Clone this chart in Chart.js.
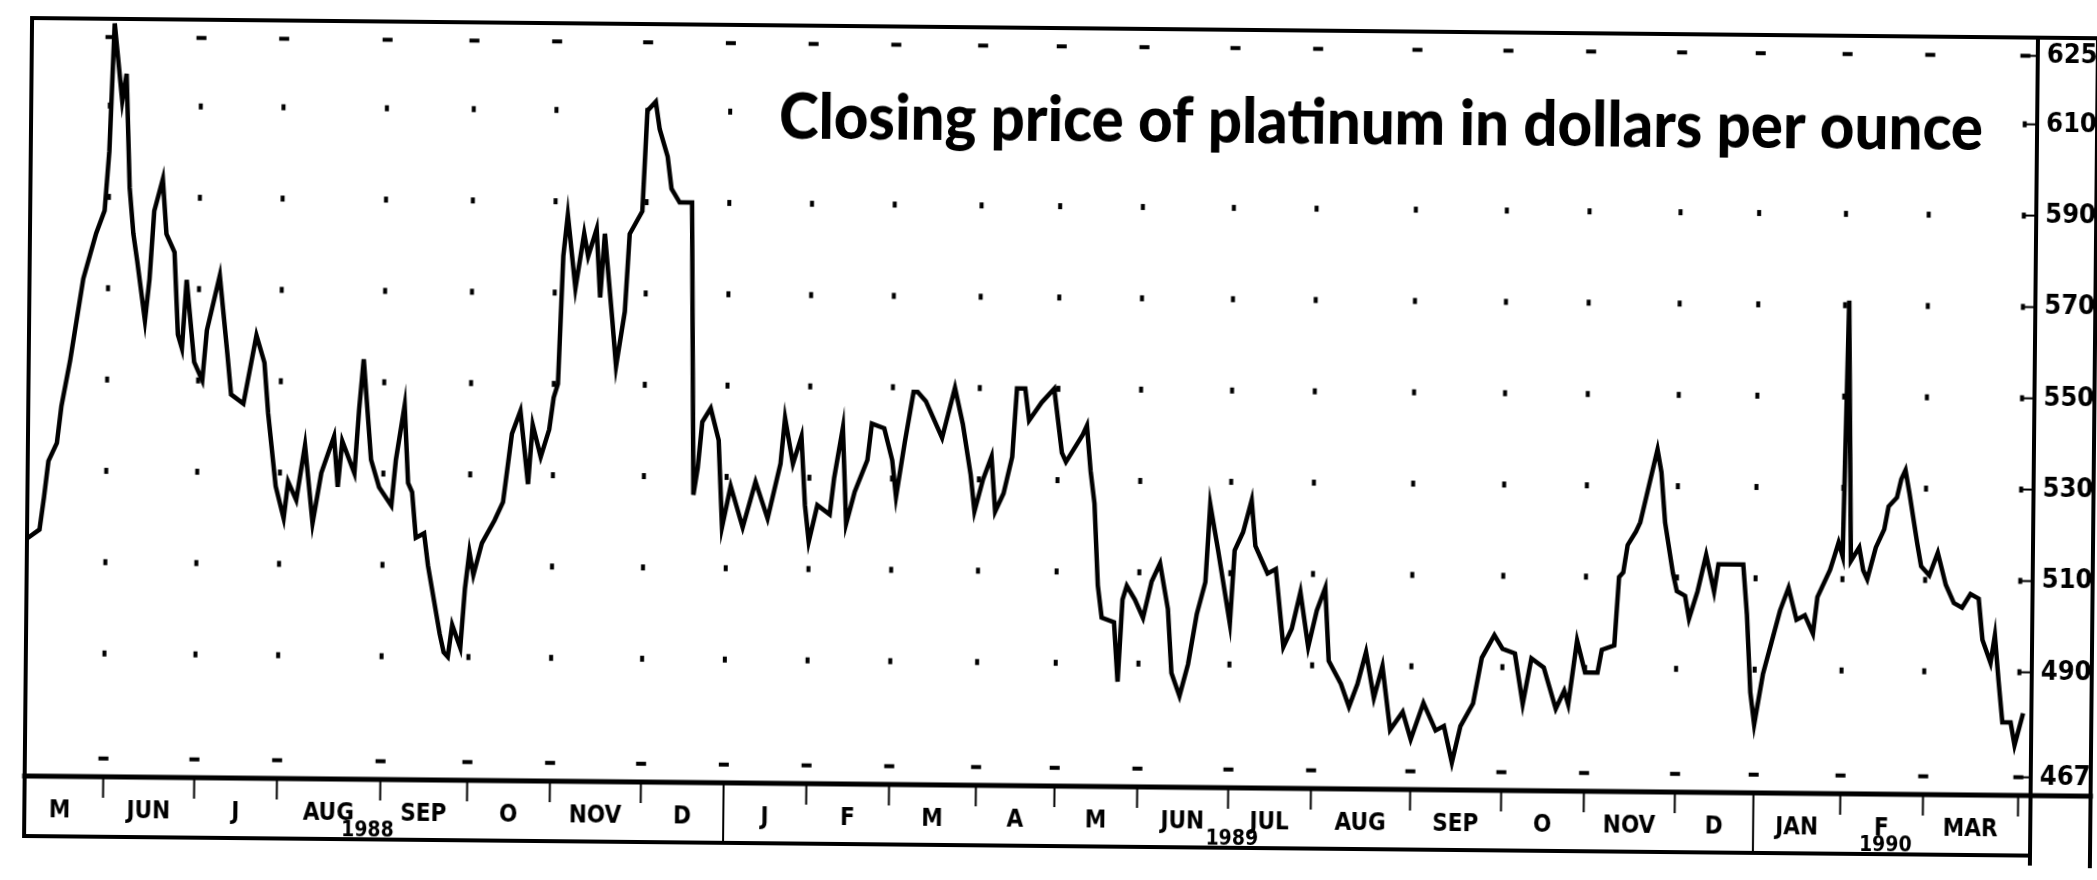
<!DOCTYPE html>
<html><head><meta charset="utf-8">
<script src="https://cdn.jsdelivr.net/npm/chart.js@4"></script>
<style>html,body{margin:0;padding:0;background:#fff;overflow:hidden}canvas{display:block;transform:rotate(0.56deg);transform-origin:50% 50%}</style>
</head><body>
<canvas id="c" width="2097" height="880"></canvas>
<script>
// trading-day index (from start of chart, late May 1988) and closing price
const days = [0,3,4,5,7,8,10,11,13,16,18,19,20,22,23,24,25,26,28,29,30,32,33,35,36,37,38,40,42,43,46,48,49,52,55,57,58,60,62,63,65,67,69,71,74,75,76,79,80,81,83,85,88,89,91,92,93,94,96,97,98,100,101,102,103,105,106,107,108,110,113,115,117,119,121,122,124,126,127,128,129,130,132,134,135,137,138,139,141,142,144,145,148,149,151,152,154,155,157,160,161,162,163,165,167,168,170,173,176,179,182,183,185,187,188,189,191,194,195,197,198,200,203,204,207,209,210,212,214,215,217,221,224,226,228,229,231,233,234,236,238,239,241,242,245,248,250,251,255,256,257,258,259,260,263,264,265,266,268,270,272,274,276,277,279,281,283,285,286,288,291,292,294,296,297,300,302,304,306,308,310,312,314,315,318,320,322,324,326,328,330,333,335,338,341,343,345,347,350,352,355,357,360,362,364,367,370,372,373,375,377,380,381,384,385,386,387,389,390,392,394,395,396,398,399,401,402,404,406,408,409,412,415,416,417,418,420,422,424,426,428,430,432,433,436,437,438,439,440,441,443,444,445,447,449,450,452,453,454,455,457,458,460,462,464,466,468,470,472,473,475,476,477,478,480,481,483];
const prices = [515,517,524,532,536,544,554,560,572,582,587,600,628,611,617,592,582,576,563,572,587,594,582,578,560,557,572,554,550,561,573,556,547,545,560,554,543,527,520,528,524,536,519,530,538,527,537,530,544,555,533,527,523,533,545,528,526,516,517,510,505,495,491,490,497,492,505,513,508,515,520,524,539,544,528,541,534,540,547,550,578,587,571,583,578,584,569,583,564,554,566,583,588,610,612,606,600,593,590,590,526,532,542,545,538,519,528,519,529,521,533,543,533,539,524,516,524,522,530,541,520,527,534,542,541,534,526,538,549,549,547,539,550,542,531,523,530,535,523,527,535,550,550,543,547,550,536,534,540,542,532,525,507,500,499,486,504,507,504,500,508,512,502,488,483,490,501,508,525,515,499,515,519,526,516,510,511,494,498,506,494,502,507,491,486,481,486,493,483,490,476,480,474,482,476,477,469,477,482,492,497,494,493,482,492,490,481,485,482,496,489,489,494,495,510,511,517,520,522,530,538,533,522,511,507,506,501,507,515,507,513,513,513,502,485,478,489,496,503,508,501,502,498,506,512,515,518,515,571,514,517,512,510,517,521,526,528,532,534,529,518,513,511,516,509,505,504,507,506,497,492,498,488,479,479,474,481];
const monthStarts = [-2,19,41,61,86,107,127,149,169,189,209,230,249,269,291,311,335,357,377,399,418,439,459,482];
const monthLabels = ['M','JUN','J','AUG','SEP','O','NOV','D','J','F','M','A','M','JUN','JUL','AUG','SEP','O','NOV','D','JAN','F','MAR'];
const yearStartDays = [169, 418];
const yearLabels = ['1988','1989','1990'];
const yearLabelDays = [83, 292, 450];
const priceTicks = [467,490,510,530,550,570,590,610,625];
const titleText = 'Closing price of platinum in dollars per ounce';

const monthMids = monthLabels.map((_, i) => (monthStarts[i] + monthStarts[i + 1]) / 2);
const bandFont = {family: '"DejaVu Sans Condensed", "DejaVu Sans", sans-serif', weight: 'bold', size: 24};
const BAND_HEIGHT = 60;
const noLabelClip = s => { s._computeLabelArea = () => undefined; };

const decor = {
  id: 'decor',
  beforeDatasetsDraw(chart) {
    const {ctx, scales: {x, y}} = chart;
    ctx.save();
    ctx.fillStyle = '#000';
    for (const m of monthStarts) {
      if (m <= x.min || m >= x.max) continue;
      const px = x.getPixelForValue(m);
      for (const v of priceTicks) {
        const py = y.getPixelForValue(v);
        if (v === 625 || v === 467) ctx.fillRect(px - 5, py - 2, 10, 4);
        else ctx.fillRect(px - 2, py - 3, 4, 6);
      }
    }
    ctx.restore();
  },
  afterDraw(chart) {
    const {ctx, chartArea: a, scales: {x, y}} = chart;
    const bandBottom = a.bottom + BAND_HEIGHT, boxRight = 2094;
    ctx.save();
    ctx.strokeStyle = '#000';
    ctx.lineCap = 'square';
    ctx.lineWidth = 4;
    ctx.beginPath();
    ctx.moveTo(a.left, a.top); ctx.lineTo(boxRight, a.top);
    ctx.moveTo(a.left, a.top); ctx.lineTo(a.left, bandBottom);
    ctx.moveTo(a.left, bandBottom); ctx.lineTo(a.right, bandBottom);
    ctx.moveTo(a.right, a.top); ctx.lineTo(a.right, bandBottom + 8);
    ctx.moveTo(boxRight, a.top); ctx.lineTo(boxRight, bandBottom + 10);
    ctx.stroke();
    ctx.lineWidth = 5;
    ctx.beginPath();
    ctx.moveTo(a.left, a.bottom); ctx.lineTo(boxRight, a.bottom);
    ctx.stroke();
    ctx.lineWidth = 2;
    ctx.beginPath();
    for (const m of monthStarts) {
      if (m <= x.min || m >= x.max) continue;
      const px = x.getPixelForValue(m);
      const full = yearStartDays.includes(m);
      ctx.moveTo(px, a.bottom); ctx.lineTo(px, full ? bandBottom : a.bottom + 20);
    }
    ctx.stroke();
    ctx.beginPath();
    for (const v of priceTicks) {
      const py = y.getPixelForValue(v);
      ctx.moveTo(a.right - 10, py); ctx.lineTo(a.right, py);
    }
    ctx.stroke();
    ctx.restore();
  },
  afterDatasetsDraw(chart) {
    const {ctx} = chart;
    ctx.save();
    ctx.font = '900 62px Lato, "Open Sans", sans-serif';
    const w = ctx.measureText(titleText).width;
    const left = 776, right = 1980, baseline = 141;
    const sx = (right - left) / w;
    ctx.fillStyle = '#fff';
    ctx.fillRect(left - 10, baseline - 56, right - left + 20, 76);
    ctx.fillStyle = '#000';
    ctx.textBaseline = 'alphabetic';
    ctx.translate(left, baseline);
    ctx.scale(sx, 1);
    ctx.fillText(titleText, 0, 0);
    ctx.restore();
  }
};

new Chart(document.getElementById('c'), {
  type: 'line',
  data: {
    datasets: [{
      data: days.map((d, i) => ({x: d, y: prices[i]})),
      borderColor: '#000',
      borderWidth: 4.5,
      pointRadius: 0,
      tension: 0,
      fill: false
    }]
  },
  options: {
    responsive: false,
    animation: false,
    devicePixelRatio: 1,
    layout: {padding: {left: 28, top: 28, right: 3, bottom: 34}},
    plugins: {legend: {display: false}, title: {display: false}, tooltip: {enabled: false}},
    scales: {
      x: {
        type: 'linear', position: 'bottom', min: 0, max: 485, weight: 0,
        grid: {display: false, drawTicks: false}, border: {display: false},
        afterBuildTicks: s => { s.ticks = monthMids.map(v => ({value: v})); },
        afterFit: s => { s.height = 38; noLabelClip(s); },
        ticks: {autoSkip: false, maxRotation: 0, padding: 20, color: '#000', font: bandFont,
          callback: (v, i) => monthLabels[i]}
      },
      x2: {
        type: 'linear', position: 'bottom', min: 0, max: 485, weight: 1,
        grid: {display: false, drawTicks: false}, border: {display: false},
        afterBuildTicks: s => { s.ticks = yearLabelDays.map(v => ({value: v})); },
        afterFit: s => { s.height = 22; noLabelClip(s); },
        ticks: {autoSkip: false, maxRotation: 0, padding: 1, color: '#000', font: {...bandFont, size: 21},
          callback: (v, i) => yearLabels[i]}
      },
      y: {
        type: 'linear', position: 'right', min: 463, max: 629,
        grid: {display: false, drawTicks: false}, border: {display: false},
        afterBuildTicks: s => { s.ticks = priceTicks.map(v => ({value: v})); },
        afterFit: s => { s.width = 60; },
        ticks: {padding: 9, color: '#000', font: {...bandFont, size: 27}, callback: v => String(v)}
      }
    }
  },
  plugins: [decor]
});
</script>
</body></html>
